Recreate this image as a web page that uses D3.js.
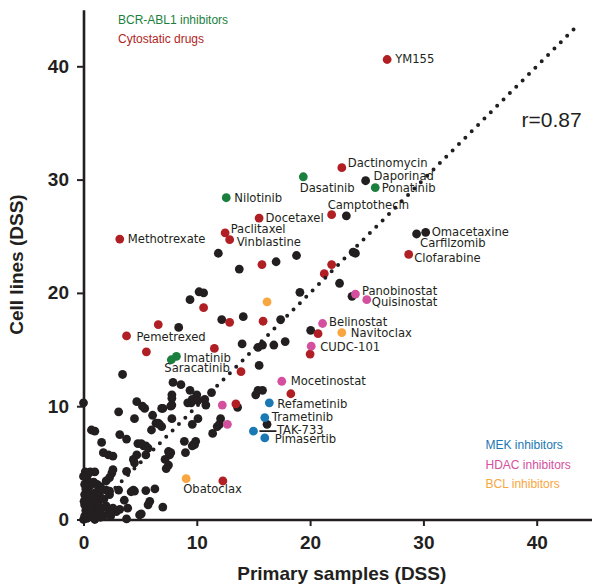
<!DOCTYPE html>
<html>
<head>
<meta charset="utf-8">
<script src="https://cdn.jsdelivr.net/npm/d3@7/dist/d3.min.js"></script>
<style>
  body { margin: 0; background: #fff; }
</style>
</head>
<body>
<div id="chart"></div>
<script>
// DSS values, [primary samples, cell lines]
var otherDrugs = [
  [24.9,29.9],[23.2,26.8],[29.4,25.2],[30.2,25.35],[18.8,23.3],[24.0,23.5],[23.8,23.6],
  [22.6,20.85],[19.1,20.05],[23.7,19.7],[11.9,23.5],[13.75,22.1],[17.0,22.75],[9.4,19.4],
  [10.2,20.1],[10.6,20.0],[12.2,17.65],[14.1,17.9],[8.4,16.95],[14.0,15.5],[15.4,15.2],
  [15.8,15.4],[16.8,15.4],[17.8,15.7],[17.4,17.65],[15.5,13.6],[3.45,12.8],[20.05,16.7],
  [7.9,12.1],[8.6,11.9],[9.4,11.4],[11.3,11.2],[7.8,11.0],[7.8,10.7],[7.8,10.1],[4.7,10.4],
  [9.6,10.6],[9.5,10.3],[9.2,10.3],[10.7,10.6],[10.8,10.1],[5.2,10.0],[5.4,9.8],[7.7,10.0],
  [6.9,9.8],[3.1,9.5],[6.1,9.2],[10.1,8.9],[7.8,8.9],[4.5,8.9],[6.4,8.5],[6.7,8.4],[6.9,8.2],
  [9.6,8.4],[12.1,8.9],[12.0,8.4],[11.8,8.2],[11.4,7.6],[15.4,11.4],[15.8,11.4],[15.2,11.0],
  [13.6,9.9],[0.7,7.9],[1.0,7.8],[3.2,7.5],[3.8,7.1],[1.6,6.8],[4.8,6.7],[5.3,6.5],[5.5,6.5],
  [6.0,7.9],[9.9,6.9],[9.8,6.6],[9.6,6.5],[8.9,6.9],[1.75,5.9],[2.2,5.7],[2.6,5.6],[4.7,5.7],
  [4.4,5.3],[4.5,5.0],[5.5,5.7],[7.2,5.3],[7.6,5.7],[7.7,5.9],[9.0,5.9],[7.3,4.5],[2.6,4.4],
  [2.5,4.1],[3.8,4.25],[0.15,4.2],[0.6,4.2],[2.3,3.7],[2.0,3.4],[3.1,2.6],[1.5,2.9],[2.0,2.6],
  [2.3,2.5],[4.4,2.6],[4.5,2.5],[5.5,2.55],[6.3,2.7],[5.85,1.6],[5.7,1.3],[7.0,1.1],[5.1,0.5],
  [3.8,0.05],[2.9,0.7],[3.2,0.9],[2.2,0.6],[1.75,0.3],[0,10.3],[16.2,8.4],[10.0,11.0],
  [10.1,10.5],[9.7,6.6],[7.5,6.0],[7.5,4.8],[5.1,6.7],[5.7,6.3],[7.0,9.8],[6.6,8.5],
  [0,0],[0.1,0.3],[0.2,0.8],[0.1,1.3],[0.3,1.8],[0.1,2.2],[0.2,2.7],[0.1,3.1],[0.4,3.4],
  [0.6,3.0],[0.9,3.3],[1.2,3.1],[0.5,2.4],[0.8,2.0],[1.1,2.4],[1.4,2.2],[0.5,1.5],[0.9,1.2],
  [1.3,1.5],[1.6,1.0],[0.4,0.6],[0.8,0.4],[1.2,0.7],[1.5,0.2],[0.3,0.1],[1.0,0.0],[2.0,1.2],
  [2.4,0.3],[2.6,1.0],[1.8,1.8],[0.0,3.8],[0.05,1.6],[0.7,0.9],[1.1,1.8],[1.4,2.8],[0.2,2.0],
  [2.3,2.2],[1.0,4.2],[0.4,4.0],[4.2,2.45],[4.95,0.4],[3.9,1.0],[3.6,1.7]
];

var labelledOther = [
  {name:"Daporinad", x:24.9, y:29.9},
  {name:"Omacetaxine", x:30.2, y:25.35},
  {name:"Carfilzomib", x:29.4, y:25.2}
];

var bcrAblInhibitors = [
  {name:"Nilotinib", x:12.6, y:28.4},
  {name:"Dasatinib", x:19.4, y:30.25},
  {name:"Ponatinib", x:25.75, y:29.3},
  {name:"Imatinib", x:8.2, y:14.4},
  {name:"Saracatinib", x:7.75, y:14.1}
];

var cytostaticDrugs = [
  {name:"YM155", x:26.8, y:40.6},
  {name:"Dactinomycin", x:22.8, y:31.05},
  {name:"Camptothecin", x:21.9, y:26.9},
  {name:"Clofarabine", x:28.7, y:23.4},
  {name:"Docetaxel", x:15.5, y:26.6},
  {name:"Paclitaxel", x:12.5, y:25.3},
  {name:"Vinblastine", x:12.9, y:24.7},
  {name:"Methotrexate", x:3.2, y:24.75},
  {name:"Pemetrexed", x:3.8, y:16.2},
  {name:"", x:21.9, y:22.5}, {name:"", x:21.25, y:21.7}, {name:"", x:15.75, y:22.5},
  {name:"", x:10.6, y:18.7}, {name:"", x:6.6, y:17.2}, {name:"", x:12.9, y:17.4},
  {name:"", x:15.85, y:17.5}, {name:"", x:5.55, y:14.8}, {name:"", x:11.55, y:15.1},
  {name:"", x:13.9, y:13.05}, {name:"", x:18.3, y:11.1}, {name:"", x:13.45, y:10.2},
  {name:"", x:12.3, y:3.4}, {name:"", x:20.7, y:16.4}, {name:"", x:20.0, y:14.6}
];

var mekInhibitors = [
  {name:"Refametinib", x:16.4, y:10.3},
  {name:"Trametinib", x:16.0, y:9.0},
  {name:"TAK-733", x:15.0, y:7.8},
  {name:"Pimasertib", x:16.0, y:7.2}
];

var hdacInhibitors = [
  {name:"Panobinostat", x:24.0, y:19.9},
  {name:"Quisinostat", x:25.0, y:19.4},
  {name:"Belinostat", x:21.1, y:17.3},
  {name:"CUDC-101", x:20.1, y:15.3},
  {name:"Mocetinostat", x:17.5, y:12.2},
  {name:"", x:12.25, y:10.1},
  {name:"", x:12.7, y:8.4}
];

var bclInhibitors = [
  {name:"Navitoclax", x:22.8, y:16.5},
  {name:"Obatoclax", x:9.06, y:3.6},
  {name:"", x:16.2, y:19.2}
];

var legendTop = ["BCR-ABL1 inhibitors", "Cytostatic drugs"];
var legendBottom = ["MEK inhibitors", "HDAC inhibitors", "BCL inhibitors"];
var tickValues = [0, 10, 20, 30, 40];
var correlation = "r=0.87";
var diagonalEnd = 43.8;

// label placement relative to the dot, in px
var labelOffsets = {
  "YM155":[8,3.5], "Dactinomycin":[6,-1], "Daporinad":[8,-0.5], "Dasatinib":[-3.5,15],
  "Ponatinib":[6.5,4], "Camptothecin":[-4,-6], "Docetaxel":[6.5,3.5], "Paclitaxel":[5.5,0.5],
  "Vinblastine":[7,6], "Omacetaxine":[6,3.5], "Carfilzomib":[3.5,13], "Clofarabine":[5.5,8],
  "Panobinostat":[6.5,1], "Quisinostat":[5,6], "Belinostat":[6.5,2.5], "Navitoclax":[9,4],
  "CUDC-101":[9,5], "Mocetinostat":[9,4], "Refametinib":[8,5.5], "Trametinib":[7,3],
  "TAK-733":[23.5,3], "Pimasertib":[10,5.5], "Pemetrexed":[10,5], "Imatinib":[7,5.5],
  "Saracatinib":[-7,12], "Obatoclax":[-3,14.5], "Methotrexate":[8,4], "Nilotinib":[8,4]
};

var colors = {
  black: "#231f20",
  bcr: "#1b7f3e",
  cyto: "#b01f24",
  mek: "#1a78b2",
  hdac: "#d4509e",
  bcl: "#f8a640"
};

var width = 592, height = 586;
var r = 4.4;

var svg = d3.select("#chart").append("svg")
  .attr("width", width)
  .attr("height", height);

var x = d3.scaleLinear().domain([0, 45]).range([83.5, 593.35]);
var y = d3.scaleLinear().domain([0, 45]).range([519.5, 9.65]);

// axes
var yAxis = d3.axisLeft(y).tickValues(tickValues).tickSizeInner(6.5).tickSizeOuter(0).tickPadding(8);
var xAxis = d3.axisBottom(x).tickValues(tickValues).tickSizeInner(6.5).tickSizeOuter(0).tickPadding(10);

var gy = svg.append("g")
  .attr("transform", "translate(" + x(0) + ",0)")
  .call(yAxis);
var gx = svg.append("g")
  .attr("transform", "translate(0," + y(0) + ")")
  .call(xAxis);

[gx, gy].forEach(function(g) {
  g.select(".domain").attr("stroke", colors.black).attr("stroke-width", 2.6);
  g.selectAll(".tick line").attr("stroke", colors.black).attr("stroke-width", 2);
  g.selectAll(".tick text")
    .attr("fill", colors.black)
    .style("font-family", "'Liberation Sans', Arial, sans-serif")
    .style("font-weight", "bold")
    .style("font-size", "19px");
});

svg.append("text")
  .attr("x", (x(0) + width) / 2 + 4)
  .attr("y", 580)
  .attr("text-anchor", "middle")
  .attr("fill", colors.black)
  .style("font-family", "'Liberation Sans', Arial, sans-serif")
  .style("font-weight", "bold")
  .style("font-size", "19px")
  .text("Primary samples (DSS)");

svg.append("text")
  .attr("transform", "translate(23," + (y(0) + y(45)) / 2 + ") rotate(-90)")
  .attr("text-anchor", "middle")
  .attr("fill", colors.black)
  .style("font-family", "'Liberation Sans', Arial, sans-serif")
  .style("font-weight", "bold")
  .style("font-size", "19px")
  .text("Cell lines (DSS)");

// dots
svg.append("g").selectAll("circle")
  .data(otherDrugs).enter()
  .append("circle")
  .attr("cx", function(d) { return x(d[0]); })
  .attr("cy", function(d) { return y(d[1]); })
  .attr("r", r)
  .attr("fill", colors.black);

var groups = [
  {data: bcrAblInhibitors, color: colors.bcr},
  {data: cytostaticDrugs, color: colors.cyto},
  {data: mekInhibitors, color: colors.mek},
  {data: hdacInhibitors, color: colors.hdac},
  {data: bclInhibitors, color: colors.bcl}
];

groups.forEach(function(grp) {
  svg.append("g").selectAll("circle")
    .data(grp.data).enter()
    .append("circle")
    .attr("cx", function(d) { return x(d.x); })
    .attr("cy", function(d) { return y(d.y); })
    .attr("r", r)
    .attr("fill", grp.color);
});

// labels
var labelled = labelledOther.concat(bcrAblInhibitors, cytostaticDrugs, mekInhibitors, hdacInhibitors, bclInhibitors)
  .filter(function(d) { return d.name !== ""; });

svg.append("g").selectAll("text")
  .data(labelled).enter()
  .append("text")
  .attr("x", function(d) { return x(d.x) + labelOffsets[d.name][0]; })
  .attr("y", function(d) { return y(d.y) + labelOffsets[d.name][1]; })
  .attr("fill", colors.black)
  .style("font-family", "'DejaVu Sans', Verdana, sans-serif")
  .style("font-size", "11.6px")
  .text(function(d) { return d.name; });

// leader for TAK-733
var tak = mekInhibitors.filter(function(d) { return d.name === "TAK-733"; })[0];
svg.append("line")
  .attr("x1", x(tak.x) + 6)
  .attr("x2", x(tak.x) + 23)
  .attr("y1", y(tak.y))
  .attr("y2", y(tak.y))
  .attr("stroke", colors.black)
  .attr("stroke-width", 1.8);

// identity line
svg.append("line")
  .attr("x1", x(0)).attr("y1", y(0))
  .attr("x2", x(diagonalEnd)).attr("y2", y(diagonalEnd))
  .attr("stroke", colors.black)
  .attr("stroke-width", 4)
  .attr("stroke-linecap", "round")
  .attr("stroke-dasharray", "0 9");

// legends
var legendFont = "'Liberation Sans', Arial, sans-serif";
svg.append("g").selectAll("text")
  .data(legendTop).enter()
  .append("text")
  .attr("x", 118)
  .attr("y", function(d, i) { return 24 + i * 19.3; })
  .attr("fill", function(d, i) { return [colors.bcr, colors.cyto][i]; })
  .style("font-family", legendFont)
  .style("font-size", "12px")
  .text(function(d) { return d; });

svg.append("g").selectAll("text")
  .data(legendBottom).enter()
  .append("text")
  .attr("x", 485.5)
  .attr("y", function(d, i) { return 449.3 + i * 19.5; })
  .attr("fill", function(d, i) { return [colors.mek, colors.hdac, colors.bcl][i]; })
  .style("font-family", legendFont)
  .style("font-size", "12px")
  .text(function(d) { return d; });

svg.append("text")
  .attr("x", 521.5)
  .attr("y", 126.7)
  .attr("fill", colors.black)
  .style("font-family", legendFont)
  .style("font-size", "21px")
  .text(correlation);
</script>
</body>
</html>
